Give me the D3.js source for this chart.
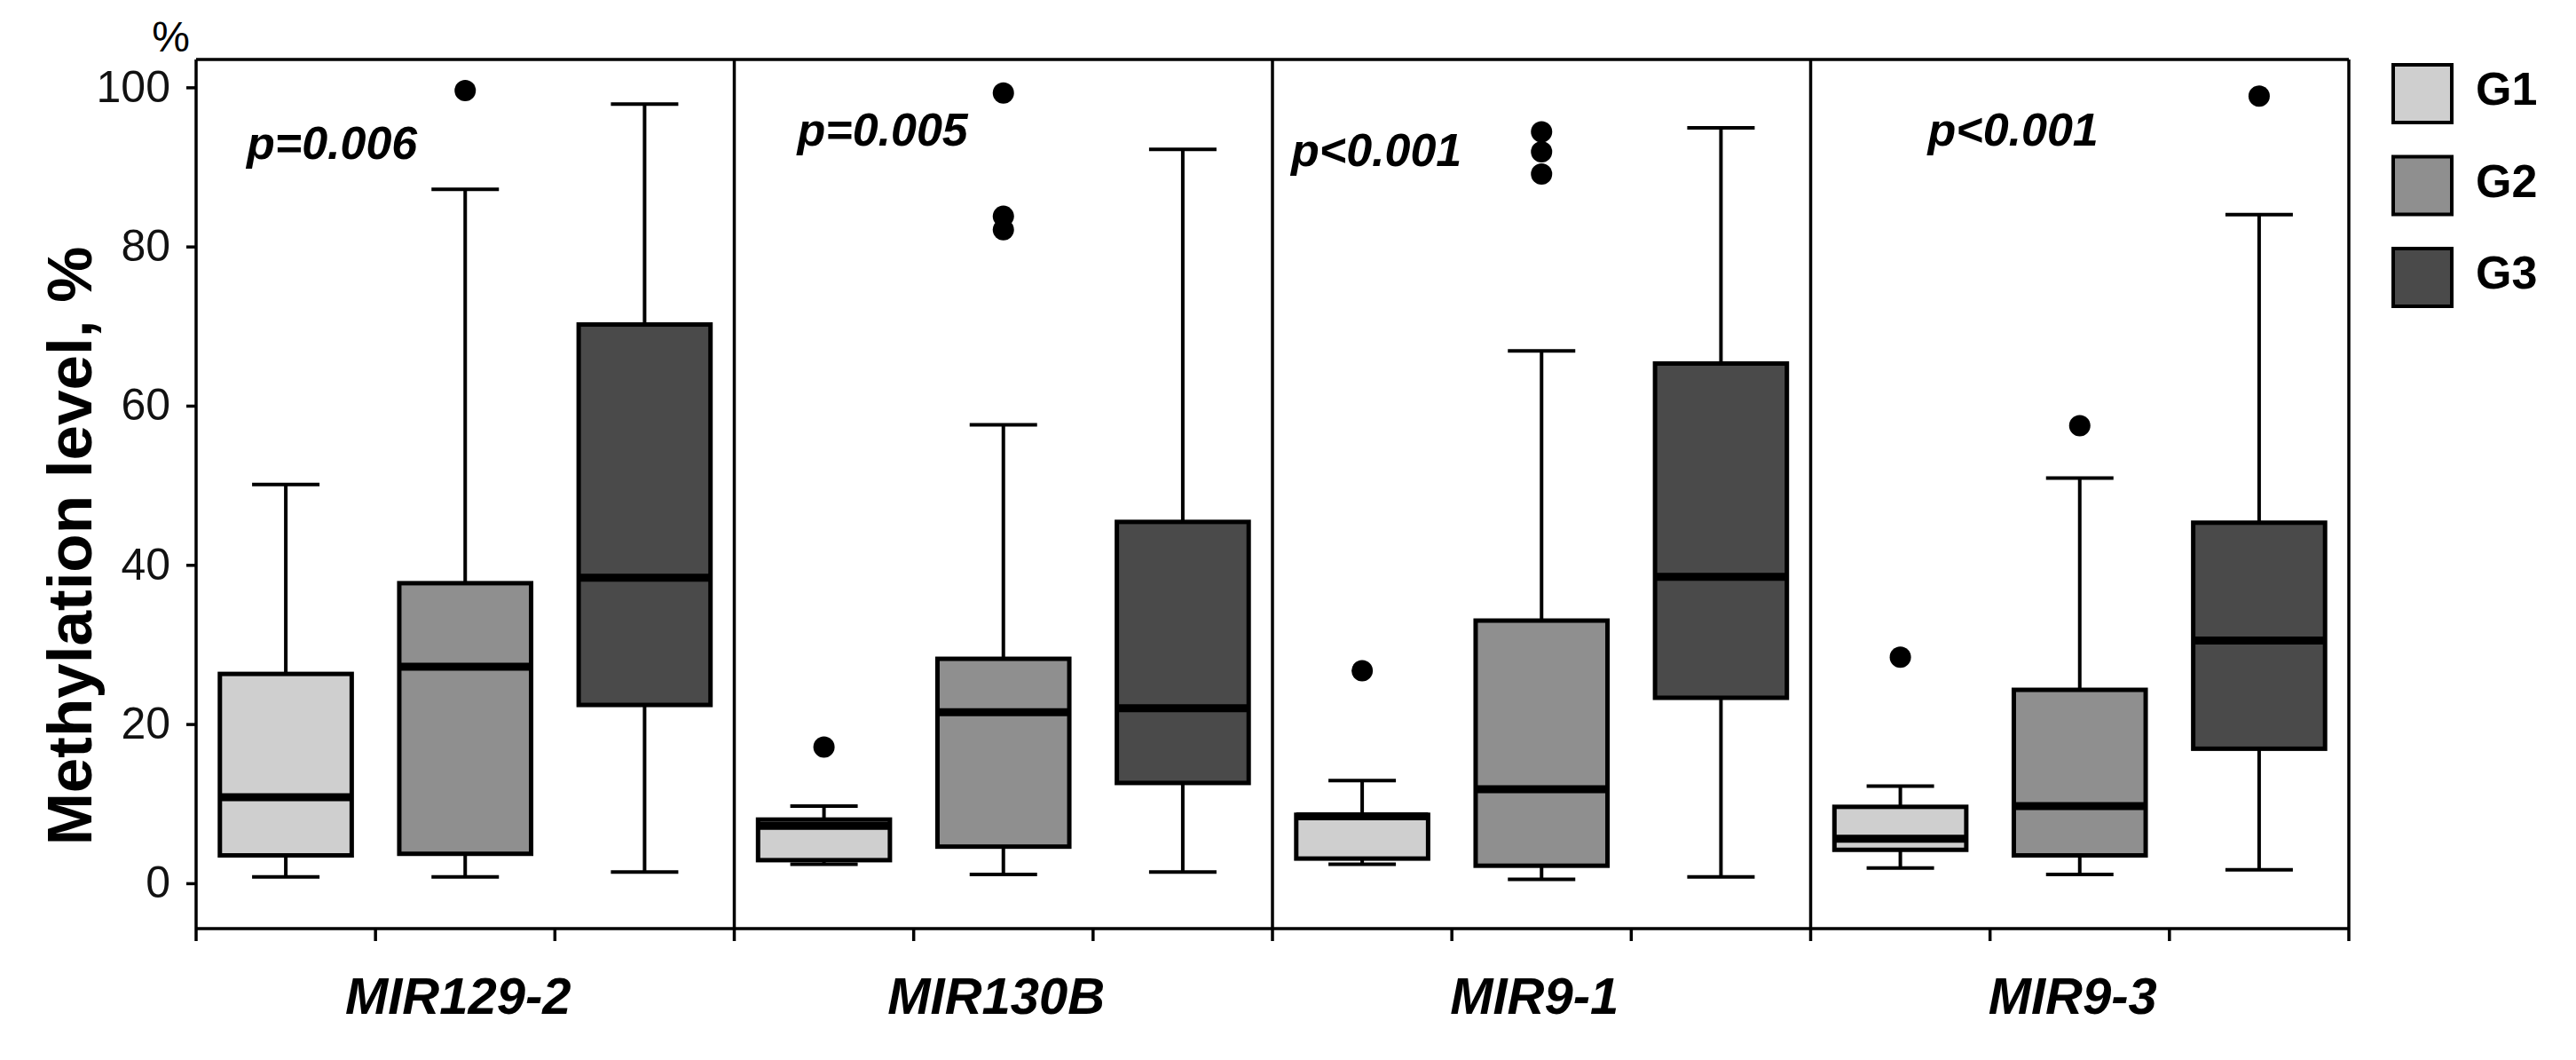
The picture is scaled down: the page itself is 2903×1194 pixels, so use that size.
<!DOCTYPE html>
<html>
<head>
<meta charset="utf-8">
<script src="https://cdn.jsdelivr.net/npm/d3@7"></script>
<style>
    body { margin: 0; background: #fff; }
    text { font-family: "Liberation Sans", Arial, sans-serif; }
</style>
</head>
<body>
<div id="chart"></div>
<script>
// categories
const genes = ["MIR129-2", "MIR130B", "MIR9-1", "MIR9-3"];
const groups = ["G1", "G2", "G3"];
const pLabels = ["p=0.006", "p=0.005", "p<0.001", "p<0.001"];
const yTicks = [0, 20, 40, 60, 80, 100];

// box stats, one row per gene, one value per group (G1, G2, G3)
const whiskerLow  = [[0.8, 0.8, 1.4], [2.4, 1.1, 1.4], [2.4, 0.5, 0.8], [1.9, 1.1, 1.7]];
const q1          = [[3.5, 3.7, 22.4], [2.9, 4.6, 12.6], [3.1, 2.2, 23.3], [4.2, 3.5, 16.9]];
const median      = [[10.8, 27.2, 38.4], [7.2, 21.5, 22.0], [8.4, 11.8, 38.5], [5.6, 9.7, 30.5]];
const q3          = [[26.3, 37.7, 70.2], [8.0, 28.2, 45.4], [8.6, 33.0, 65.3], [9.6, 24.3, 45.3]];
const whiskerHigh = [[50.1, 87.2, 97.9], [9.7, 57.6, 92.2], [12.9, 66.9, 94.9], [12.2, 50.9, 84.0]];
const outliers    = [
    [[], [99.6], []],
    [[17.1], [82.1, 83.8, 99.3], []],
    [[26.7], [89.1, 91.9, 94.4], []],
    [[28.4], [57.5], [98.9]]
];

const groupColors = ["#cfcfcf", "#8f8f8f", "#4a4a4a"];

// p label offset inside each panel (x from panel left, baseline y)
const pLabelPos = [[57, 179], [71, 164], [21, 187], [132, 164]];

const W = 2903, H = 1194;
const plot = {left: 221, right: 2647, top: 67, bottom: 1046};

const svg = d3.select("#chart").append("svg")
    .attr("width", W)
    .attr("height", H);

// scales
const y = d3.scaleLinear().domain([-5.7, 103.5]).range([plot.bottom, plot.top]);
const xGene = d3.scaleBand().domain(genes).range([plot.left, plot.right]);
const xGroup = d3.scaleBand().domain(groups).range([0, xGene.bandwidth()]);
const boxW = xGroup.bandwidth() * 0.735;
const capW = 76;

// y axis
const yAxis = svg.append("g")
    .attr("transform", `translate(${plot.left},0)`)
    .call(d3.axisLeft(y).tickValues(yTicks).tickSize(11).tickPadding(18));
yAxis.select(".domain").remove();
yAxis.selectAll(".tick line").attr("stroke", "#000").attr("stroke-width", 3.5);
yAxis.selectAll(".tick text")
    .attr("font-size", 50)
    .attr("font-family", "'Liberation Sans', Arial, sans-serif")
    .attr("fill", "#111");

svg.append("text")
    .attr("x", 214).attr("y", 58)
    .attr("text-anchor", "end")
    .attr("font-size", 48)
    .text("%");

svg.append("text")
    .attr("transform", `translate(103, 615) rotate(-90)`)
    .attr("text-anchor", "middle")
    .attr("font-size", 71)
    .attr("font-weight", "bold")
    .text("Methylation level, %");

// frame
const frame = svg.append("g").attr("stroke", "#000").attr("stroke-width", 3.5).attr("fill", "none");
frame.append("line").attr("x1", plot.left).attr("x2", plot.right).attr("y1", plot.top).attr("y2", plot.top);
frame.append("line").attr("x1", plot.left).attr("x2", plot.right).attr("y1", plot.bottom).attr("y2", plot.bottom);

// panel borders, extending into ticks below the bottom line
const edges = genes.map(g => xGene(g)).concat([plot.right]);
frame.selectAll(".edge")
    .data(edges)
    .join("line")
    .attr("class", "edge")
    .attr("x1", d => d).attr("x2", d => d)
    .attr("y1", plot.top).attr("y2", plot.bottom + 14);

// inner ticks between groups
const innerTicks = [];
genes.forEach(g => {
    groups.slice(1).forEach(gr => innerTicks.push(xGene(g) + xGroup(gr)));
});
frame.selectAll(".itick")
    .data(innerTicks)
    .join("line")
    .attr("class", "itick")
    .attr("x1", d => d).attr("x2", d => d)
    .attr("y1", plot.bottom).attr("y2", plot.bottom + 14);

// gene labels
svg.selectAll(".geneLabel")
    .data(genes)
    .join("text")
    .attr("class", "geneLabel")
    .attr("x", d => xGene(d) + xGene.bandwidth() / 2 - 8)
    .attr("y", 1142)
    .attr("text-anchor", "middle")
    .attr("font-size", 58)
    .attr("font-weight", "bold")
    .attr("font-style", "italic")
    .text(d => d);

// p values
svg.selectAll(".pLabel")
    .data(genes)
    .join("text")
    .attr("class", "pLabel")
    .attr("x", (d, i) => xGene(d) + pLabelPos[i][0])
    .attr("y", (d, i) => pLabelPos[i][1])
    .attr("font-size", 52)
    .attr("font-weight", "bold")
    .attr("font-style", "italic")
    .text((d, i) => pLabels[i]);

// boxes
genes.forEach((gene, gi) => {
    groups.forEach((grp, k) => {
        const cx = xGene(gene) + xGroup(grp) + xGroup.bandwidth() / 2;
        const g = svg.append("g").attr("class", "box");

        // whiskers
        g.append("line")
            .attr("x1", cx).attr("x2", cx)
            .attr("y1", y(whiskerHigh[gi][k])).attr("y2", y(q3[gi][k]))
            .attr("stroke", "#000").attr("stroke-width", 4);
        g.append("line")
            .attr("x1", cx).attr("x2", cx)
            .attr("y1", y(whiskerLow[gi][k])).attr("y2", y(q1[gi][k]))
            .attr("stroke", "#000").attr("stroke-width", 4);
        [whiskerHigh[gi][k], whiskerLow[gi][k]].forEach(v => {
            g.append("line")
                .attr("x1", cx - capW / 2).attr("x2", cx + capW / 2)
                .attr("y1", y(v)).attr("y2", y(v))
                .attr("stroke", "#000").attr("stroke-width", 4);
        });

        // box
        g.append("rect")
            .attr("x", cx - boxW / 2)
            .attr("y", y(q3[gi][k]))
            .attr("width", boxW)
            .attr("height", y(q1[gi][k]) - y(q3[gi][k]))
            .attr("fill", groupColors[k])
            .attr("stroke", "#000")
            .attr("stroke-width", 5);

        // median
        g.append("line")
            .attr("x1", cx - boxW / 2).attr("x2", cx + boxW / 2)
            .attr("y1", y(median[gi][k])).attr("y2", y(median[gi][k]))
            .attr("stroke", "#000").attr("stroke-width", 9);

        // outliers
        g.selectAll("circle")
            .data(outliers[gi][k])
            .join("circle")
            .attr("cx", cx)
            .attr("cy", d => y(d))
            .attr("r", 12)
            .attr("fill", "#000");
    });
});

// legend
const legend = svg.append("g").attr("class", "legend");
groups.forEach((grp, k) => {
    const ly = 73 + k * 103.5;
    legend.append("rect")
        .attr("x", 2697).attr("y", ly)
        .attr("width", 66).attr("height", 65)
        .attr("fill", groupColors[k])
        .attr("stroke", "#000")
        .attr("stroke-width", 4);
    legend.append("text")
        .attr("x", 2790).attr("y", ly + 45)
        .attr("font-size", 52)
        .attr("font-weight", "bold")
        .text(grp);
});
</script>
</body>
</html>
